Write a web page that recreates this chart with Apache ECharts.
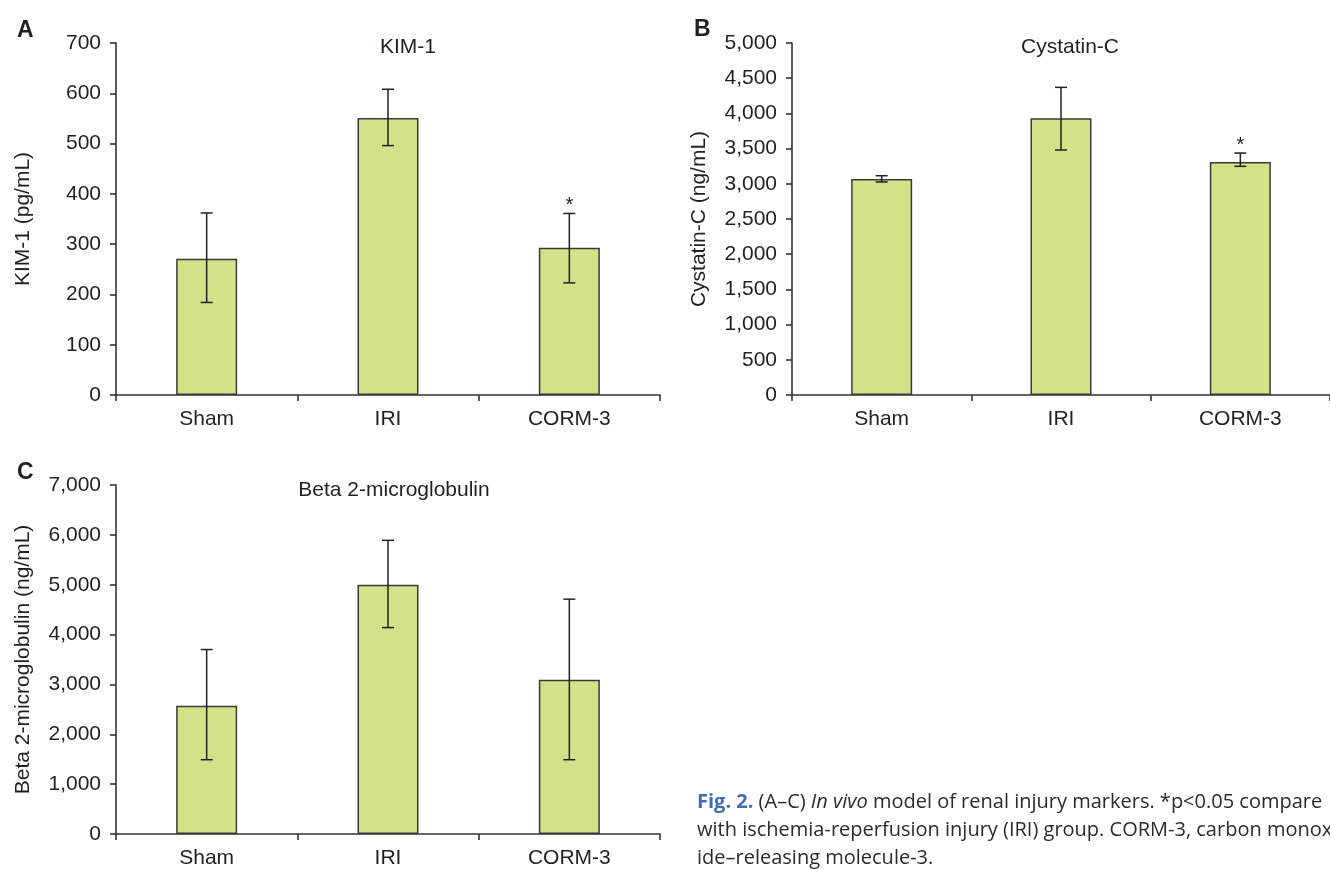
<!DOCTYPE html>
<html>
<head>
<meta charset="utf-8">
<script src="https://cdn.jsdelivr.net/npm/echarts@6/dist/echarts.min.js"></script>
<style>
  html, body { margin: 0; padding: 0; background: #fff; }
  #chart { width: 1330px; height: 869px; }
</style>
</head>
<body>
<div id="chart"></div>
<script>
// ---- data ----
const categories = ['Sham', 'IRI', 'CORM-3'];

const kimMean = [271, 551, 293];
const kimLow  = [184, 496, 223];
const kimHigh = [362, 608, 361];
const kimSig  = ['', '', '*'];

const cysMean = [3068, 3930, 3310];
const cysLow  = [3026, 3480, 3248];
const cysHigh = [3115, 4370, 3437];
const cysSig  = ['', '', '*'];

const b2mMean = [2570, 5000, 3095];
const b2mLow  = [1490, 4140, 1490];
const b2mHigh = [3700, 5890, 4710];
const b2mSig  = ['', '', ''];

const kimTicks = { min: 0, max: 700, interval: 100 };
const cysTicks = { min: 0, max: 5000, interval: 500 };
const b2mTicks = { min: 0, max: 7000, interval: 1000 };

// ---- styling ----
const TXT = '#231f20';
const AX = '#333333';
const FILL = '#d3e289';
const FONT = "'Liberation Sans', Arial, sans-serif";
const FS = 21;

const panels = [
  { grid: { left: 116, top: 43, width: 544, height: 352 }, ticks: kimTicks, name: 'KIM-1 (pg/mL)',
    mean: kimMean, low: kimLow, high: kimHigh, sig: kimSig, fmt: v => String(v) },
  { grid: { left: 792, top: 43, width: 546, height: 352 }, ticks: cysTicks, name: 'Cystatin-C (ng/mL)',
    mean: cysMean, low: cysLow, high: cysHigh, sig: cysSig, fmt: v => v.toLocaleString('en-US') },
  { grid: { left: 116, top: 485, width: 544, height: 352 }, ticks: b2mTicks, name: 'Beta 2-microglobulin (ng/mL)',
    mean: b2mMean, low: b2mLow, high: b2mHigh, sig: b2mSig, fmt: v => v.toLocaleString('en-US') }
];

const grids = [], xAxes = [], yAxes = [], series = [];
panels.forEach((p, i) => {
  grids.push(Object.assign({ containLabel: false }, p.grid));
  xAxes.push({
    type: 'category', gridIndex: i, data: categories,
    axisLine: { show: true, lineStyle: { color: AX, width: 1.6 } },
    axisTick: { show: true, length: 6, lineStyle: { color: AX, width: 1.6 } },
    axisLabel: { color: TXT, fontFamily: FONT, fontSize: FS, margin: 14 },
    splitLine: { show: false }
  });
  yAxes.push({
    type: 'value', gridIndex: i,
    min: p.ticks.min, max: p.ticks.max, interval: p.ticks.interval,
    name: p.name, nameLocation: 'middle', nameGap: 82, nameRotate: 90,
    nameTextStyle: { color: TXT, fontFamily: FONT, fontSize: FS },
    axisLine: { show: true, lineStyle: { color: AX, width: 1.6 } },
    axisTick: { show: true, length: 6, lineStyle: { color: AX, width: 1.6 } },
    axisLabel: { color: TXT, fontFamily: FONT, fontSize: FS, margin: 15, formatter: p.fmt },
    splitLine: { show: false }
  });
  series.push({
    type: 'bar', xAxisIndex: i, yAxisIndex: i, data: p.mean, barWidth: 61,
    itemStyle: { color: FILL, borderColor: '#3a3a3a', borderWidth: 1.5 },
    silent: true, animation: false
  });
  series.push({
    type: 'custom', xAxisIndex: i, yAxisIndex: i,
    data: categories.map((c, k) => [k, p.low[k], p.high[k], p.sig[k]]),
    encode: { x: 0, y: [1, 2] },
    renderItem: function (params, api) {
      const k = api.value(0);
      const lo = api.coord([k, api.value(1)]);
      const hi = api.coord([k, api.value(2)]);
      const hw = 6;
      const st = { stroke: '#222', lineWidth: 1.5 };
      const children = [
        { type: 'line', shape: { x1: lo[0], y1: lo[1], x2: hi[0], y2: hi[1] }, style: st },
        { type: 'line', shape: { x1: lo[0] - hw, y1: lo[1], x2: lo[0] + hw, y2: lo[1] }, style: st },
        { type: 'line', shape: { x1: hi[0] - hw, y1: hi[1], x2: hi[0] + hw, y2: hi[1] }, style: st }
      ];
      const mark = p.sig[params.dataIndex];
      if (mark) {
        children.push({ type: 'text', x: hi[0], y: hi[1] + 2,
          style: { text: mark, fill: TXT, font: '20px ' + FONT, align: 'center', verticalAlign: 'bottom' } });
      }
      return { type: 'group', children: children };
    },
    z: 5, silent: true, animation: false
  });
});

const titleStyle = { color: TXT, fontFamily: FONT, fontSize: FS, fontWeight: 'normal' };
const letterStyle = { color: TXT, fontFamily: FONT, fontSize: 23, fontWeight: 'bold' };

const CAP_FONT = "'Open Sans', Lato, sans-serif";
const option = {
  animation: false,
  backgroundColor: '#ffffff',
  title: [
    { text: 'KIM-1', left: 403, top: 32, textAlign: 'center', textStyle: titleStyle },
    { text: 'Cystatin-C', left: 1065, top: 32, textAlign: 'center', textStyle: titleStyle },
    { text: 'Beta 2-microglobulin', left: 389, top: 475, textAlign: 'center', textStyle: titleStyle },
    { text: 'A', left: 12, top: 14, textStyle: letterStyle },
    { text: 'B', left: 689, top: 13, textStyle: letterStyle },
    { text: 'C', left: 12, top: 456, textStyle: letterStyle }
  ],
  grid: grids,
  xAxis: xAxes,
  yAxis: yAxes,
  series: series,
  graphic: [
    {
      type: 'text', left: 697, top: 788, silent: true,
      style: {
        text: '{b|Fig. 2.} (A–C) {i|In vivo} model of renal injury markers. *p<0.05 compare\nwith ischemia-reperfusion injury (IRI) group. CORM-3, carbon monox\nide–releasing molecule-3.',
        font: '20px ' + CAP_FONT,
        fill: '#2b2b2b', lineHeight: 28,
        rich: {
          b: { fill: '#3f6fb0', fontWeight: 'bold', fontFamily: CAP_FONT, fontSize: 20, lineHeight: 28 },
          i: { fill: '#2b2b2b', fontStyle: 'italic', fontFamily: CAP_FONT, fontSize: 20, lineHeight: 28 }
        }
      }
    }
  ]
};

const chart = echarts.init(document.getElementById('chart'), null, { renderer: 'canvas' });
chart.setOption(option);
</script>
</body>
</html>
